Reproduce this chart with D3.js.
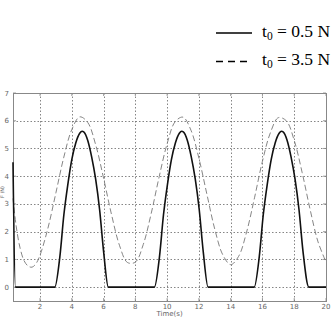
<!DOCTYPE html>
<html>
<head>
<meta charset="utf-8">
<script src="https://cdn.jsdelivr.net/npm/d3@7"></script>
<style>
  body { margin: 0; background: #fff; }
  svg { display: block; }
</style>
</head>
<body>
<svg id="chart"></svg>
<script>
const width = 335;
const height = 318;

// t0 = 0.5 N (solid)
const solidTime = [0.3, 0.45, 2.93, 3.25, 3.5, 3.75, 4.0, 4.25, 4.5, 4.65, 4.75, 5.0, 5.25, 5.5, 5.75, 6.0, 6.3,
  9.2, 9.52, 9.77, 10.02, 10.27, 10.52, 10.77, 10.92, 11.02, 11.27, 11.52, 11.77, 12.02, 12.27, 12.58,
  15.48, 15.8, 16.05, 16.3, 16.55, 16.8, 17.05, 17.2, 17.3, 17.55, 17.8, 18.05, 18.3, 18.55, 18.92, 20];
const solidForce = [4.5, 0, 0, 1.1, 2.6, 3.7, 4.6, 5.2, 5.55, 5.62, 5.6, 5.3, 4.7, 3.9, 2.8, 1.3, 0,
  0, 1.1, 2.6, 3.7, 4.6, 5.2, 5.55, 5.62, 5.6, 5.3, 4.7, 3.9, 2.8, 1.3, 0,
  0, 1.1, 2.6, 3.7, 4.6, 5.2, 5.55, 5.62, 5.6, 5.3, 4.7, 3.9, 2.8, 1.3, 0, 0];

// t0 = 3.5 N (dashed)
const dashTime = [0.3, 0.5, 0.75, 1.0, 1.25, 1.5, 1.75, 2.0, 2.5, 3.0, 3.5, 4.0, 4.5, 5.0, 5.5, 6.0, 6.5,
  7.0, 7.5, 8.0, 8.5, 9.0, 9.5, 10.0, 10.5, 11.0, 11.5, 12.0, 12.5, 13.0, 13.5, 14.0, 14.5,
  15.0, 15.5, 16.0, 16.5, 17.0, 17.5, 18.0, 18.5, 19.0, 19.5, 20.0];
const dashForce = [3.2, 2.2, 1.4, 0.95, 0.76, 0.72, 0.85, 1.15, 2.13, 3.4, 4.69, 5.68, 6.14, 5.94, 5.14, 3.93, 2.62,
  1.51, 0.89, 0.9, 1.54, 2.66, 3.98, 5.17, 5.96, 6.13, 5.66, 4.65, 3.36, 2.09, 1.17, 0.81, 1.11,
  1.98, 3.22, 4.54, 5.57, 6.11, 6.0, 5.29, 4.13, 2.8, 1.63, 0.91];

const xTicks = [2, 4, 6, 8, 10, 12, 14, 16, 18, 20];
const yTicks = [0, 1, 2, 3, 4, 5, 6, 7];
const legendLabels = ["0.5 N", "3.5 N"];

const svg = d3.select("#chart").attr("width", width).attr("height", height);

const margin = { left: 13, right: 9, top: 93, bottom: 17 };
const x = d3.scaleLinear().domain([0.3, 20]).range([margin.left, width - margin.right]);
const y = d3.scaleLinear().domain([-0.5, 7]).range([height - margin.bottom, margin.top]);

const plot = svg.append("g");

// grid
plot.append("g")
  .selectAll("line")
  .data(xTicks.filter((d) => d < 20))
  .join("line")
  .attr("x1", (d) => Math.round(x(d)) + 0.5)
  .attr("x2", (d) => Math.round(x(d)) + 0.5)
  .attr("y1", y(7))
  .attr("y2", y(-0.5))
  .attr("stroke", "#666")
  .attr("stroke-width", 0.8)
  .attr("stroke-dasharray", "1.5,2");

plot.append("g")
  .selectAll("line")
  .data(yTicks.filter((d) => d < 7))
  .join("line")
  .attr("x1", x(0.3))
  .attr("x2", x(20))
  .attr("y1", (d) => Math.round(y(d)) + 0.5)
  .attr("y2", (d) => Math.round(y(d)) + 0.5)
  .attr("stroke", "#666")
  .attr("stroke-width", 0.8)
  .attr("stroke-dasharray", "1.5,2");

// box
plot.append("rect")
  .attr("x", x(0.3) + 0.5)
  .attr("y", y(7) + 0.5)
  .attr("width", x(20) - x(0.3))
  .attr("height", y(-0.5) - y(7))
  .attr("fill", "none")
  .attr("stroke", "#888")
  .attr("stroke-width", 1);

// tick marks (inside, top and bottom)
const tickG = plot.append("g").attr("stroke", "#888").attr("stroke-width", 0.8);
xTicks.forEach((d) => {
  tickG.append("line").attr("x1", x(d)).attr("x2", x(d)).attr("y1", y(-0.5)).attr("y2", y(-0.5) - 3);
  tickG.append("line").attr("x1", x(d)).attr("x2", x(d)).attr("y1", y(7)).attr("y2", y(7) + 3);
});
yTicks.forEach((d) => {
  tickG.append("line").attr("x1", x(0.3)).attr("x2", x(0.3) + 3).attr("y1", y(d)).attr("y2", y(d));
  tickG.append("line").attr("x1", x(20)).attr("x2", x(20) - 3).attr("y1", y(d)).attr("y2", y(d));
});

// tick labels
plot.append("g")
  .style("font", "7px 'DejaVu Sans'")
  .attr("fill", "#666")
  .selectAll("text")
  .data(xTicks)
  .join("text")
  .attr("x", (d) => x(d))
  .attr("y", y(-0.5) + 8)
  .attr("text-anchor", "middle")
  .text((d) => d);

plot.append("g")
  .style("font", "7px 'DejaVu Sans'")
  .attr("fill", "#666")
  .selectAll("text")
  .data(yTicks)
  .join("text")
  .attr("x", x(0.3) - 4)
  .attr("y", (d) => y(d) + 2.5)
  .attr("text-anchor", "end")
  .text((d) => d);

svg.append("text")
  .text("Time(s)")
  .attr("x", (x(0.3) + x(20)) / 2)
  .attr("y", 316)
  .attr("text-anchor", "middle")
  .attr("fill", "#666")
  .style("font", "7px 'DejaVu Sans'");

svg.append("text")
  .text("F (N)")
  .attr("transform", `translate(4, 192) rotate(-90)`)
  .attr("text-anchor", "middle")
  .attr("fill", "#666")
  .style("font", "5px 'DejaVu Sans'");

// lines
const dashed = dashTime.map((t, i) => ({ t, f: dashForce[i] }));
const solid = solidTime.map((t, i) => ({ t, f: solidForce[i] }));

plot.append("path")
  .datum(dashed)
  .attr("fill", "none")
  .attr("stroke", "#777")
  .attr("stroke-width", 0.9)
  .attr("stroke-dasharray", "6,3")
  .attr("d", d3.line().x((d) => x(d.t)).y((d) => y(d.f)).curve(d3.curveCatmullRom));

plot.append("path")
  .datum(solid)
  .attr("fill", "none")
  .attr("stroke", "#111")
  .attr("stroke-width", 1.6)
  .attr("stroke-linejoin", "round")
  .attr("d", d3.line().x((d) => x(d.t)).y((d) => y(d.f)).curve(d3.curveMonotoneX));

// legend
const legend = svg.append("g");
legendLabels.forEach((lab, i) => {
  const ly = 33 + i * 28.5;
  legend.append("line")
    .attr("x1", 216).attr("x2", i === 0 ? 252 : 250)
    .attr("y1", ly).attr("y2", ly)
    .attr("stroke", "#000")
    .attr("stroke-width", 1.6)
    .attr("stroke-dasharray", i === 0 ? null : "7,5");
  const t = legend.append("text")
    .attr("x", 262)
    .attr("y", ly + 3.5)
    .attr("fill", "#000")
    .style("font", "17.5px 'Liberation Serif'");
  t.append("tspan").text("t");
  t.append("tspan").attr("font-size", "11.5px").attr("dy", 3).text("0");
  t.append("tspan").attr("dy", -3).text(" = " + lab);
});
</script>
</body>
</html>
